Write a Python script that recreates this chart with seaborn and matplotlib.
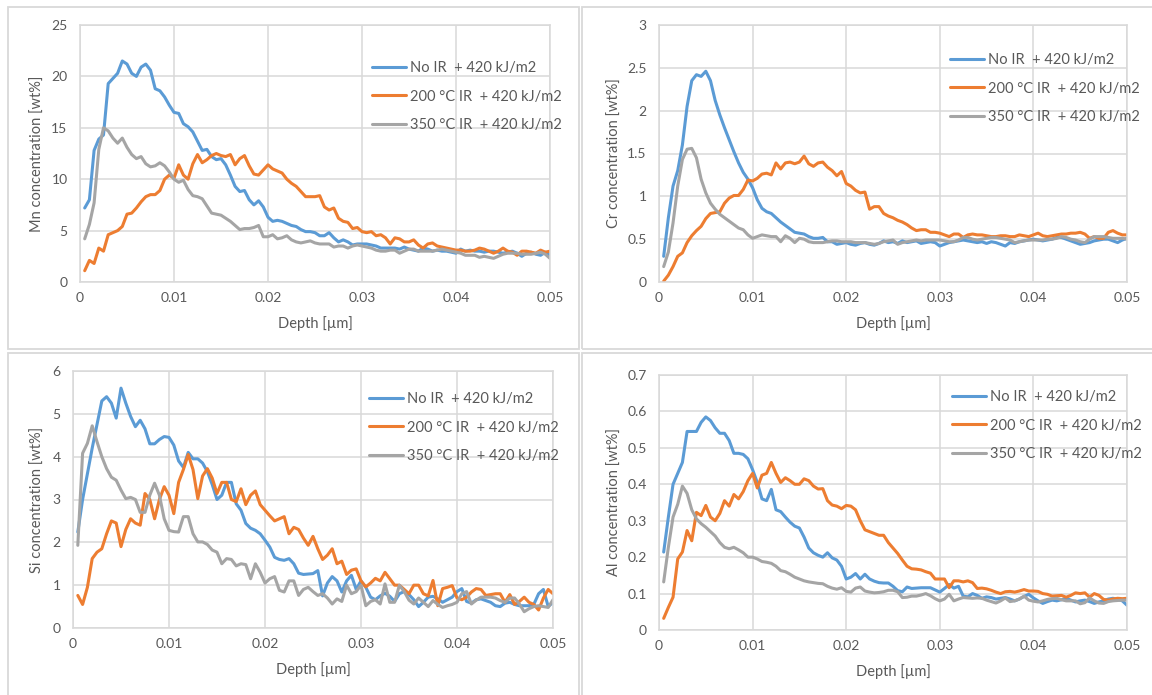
import numpy as np
import pandas as pd
import matplotlib
matplotlib.use("Agg")
import matplotlib.pyplot as plt
import seaborn as sns
from matplotlib.patches import Rectangle

# depth samples [um], every 0.0005 from 0.0005 to 0.05
depth = np.round(np.arange(1, 101) * 0.0005, 4)

series_names = ["No IR  + 420 kJ/m2", "200 °C IR  + 420 kJ/m2", "350 °C IR  + 420 kJ/m2"]
colors = ["#5B9BD5", "#ED7D31", "#A5A5A5"]

# Mn [wt%]
mn_no_ir = [7.2, 8.0, 12.8, 13.9, 14.3, 19.3, 19.8, 20.3, 21.5, 21.2,
            20.3, 20.0, 20.9, 21.2, 20.6, 18.8, 18.6, 18.0, 17.2, 16.5,
            16.4, 15.4, 15.1, 14.6, 13.7, 12.8, 12.9, 12.2, 11.9, 12.0,
            11.4, 10.4, 9.3, 8.8, 8.9, 8.0, 7.5, 7.9, 7.3, 6.3,
            5.9, 6.0, 5.9, 5.7, 5.5, 5.4, 5.1, 4.9, 4.9, 4.8,
            4.5, 4.5, 4.8, 4.3, 3.9, 4.1, 3.9, 3.6, 3.7, 3.7,
            3.7, 3.6, 3.5, 3.3, 3.3, 3.3, 3.3, 3.2, 3.4, 3.2,
            3.1, 3.0, 3.3, 3.2, 3.0, 3.1, 3.0, 3.0, 2.9, 2.8,
            3.2, 3.0, 3.1, 3.0, 3.0, 2.9, 3.0, 3.0, 2.9, 2.8,
            2.9, 3.0, 2.8, 2.5, 2.8, 2.9, 2.7, 2.6, 2.9, 2.6]
mn_200 = [1.1, 2.1, 1.8, 3.3, 3.0, 4.6, 4.8, 5.0, 5.4, 6.6,
          6.7, 7.2, 7.8, 8.3, 8.5, 8.5, 8.9, 10.0, 10.4, 10.1,
          11.4, 10.4, 10.0, 11.5, 12.4, 11.6, 11.9, 12.3, 12.5, 12.3,
          12.2, 12.4, 11.4, 12.0, 12.3, 11.3, 10.5, 10.4, 10.9, 11.4,
          11.0, 10.8, 10.6, 10.0, 9.6, 9.3, 8.8, 8.3, 8.3, 8.3,
          8.4, 7.3, 7.0, 7.2, 6.2, 5.9, 5.8, 5.2, 5.3, 4.9,
          4.8, 4.9, 4.5, 4.6, 4.3, 3.7, 4.3, 4.2, 3.9, 3.9,
          4.1, 3.6, 3.3, 3.7, 3.8, 3.5, 3.4, 3.3, 3.2, 3.1,
          3.1, 3.0, 3.0, 3.1, 3.3, 3.2, 3.0, 2.8, 3.0, 3.3,
          3.0, 2.9, 2.6, 3.0, 3.0, 2.9, 2.8, 3.1, 2.9, 3.0]
mn_350 = [4.2, 5.6, 7.7, 12.9, 15.0, 14.7, 14.0, 13.5, 14.0, 13.1,
          12.4, 12.0, 12.2, 11.5, 11.2, 11.3, 11.6, 11.3, 10.7, 10.0,
          9.7, 9.9, 9.0, 8.4, 8.3, 8.1, 7.4, 6.7, 6.6, 6.5,
          6.2, 5.9, 5.5, 5.1, 5.2, 5.2, 5.3, 5.5, 4.4, 4.4,
          4.6, 4.2, 4.3, 4.5, 4.1, 3.9, 3.8, 3.9, 4.0, 3.8,
          3.7, 3.7, 3.7, 3.4, 3.5, 3.5, 3.3, 3.5, 3.6, 3.5,
          3.4, 3.3, 3.1, 3.0, 3.0, 3.1, 3.1, 2.8, 3.0, 3.2,
          3.2, 3.0, 3.0, 3.0, 3.0, 3.1, 3.2, 3.1, 3.0, 2.9,
          2.8, 2.6, 2.6, 2.6, 2.4, 2.5, 2.4, 2.3, 2.5, 2.7,
          2.8, 2.8, 2.8, 2.7, 2.7, 2.7, 2.8, 2.9, 2.7, 2.3]

# Cr [wt%]
cr_no_ir = [0.30, 0.75, 1.12, 1.30, 1.60, 2.05, 2.35, 2.42, 2.40, 2.46,
            2.35, 2.12, 1.95, 1.80, 1.66, 1.52, 1.39, 1.28, 1.20, 1.10,
            0.96, 0.86, 0.82, 0.80, 0.75, 0.70, 0.66, 0.62, 0.58, 0.57,
            0.56, 0.53, 0.51, 0.51, 0.52, 0.47, 0.47, 0.44, 0.45, 0.46,
            0.44, 0.43, 0.45, 0.46, 0.44, 0.43, 0.45, 0.48, 0.46, 0.47,
            0.45, 0.48, 0.46, 0.47, 0.48, 0.45, 0.46, 0.47, 0.46, 0.42,
            0.44, 0.46, 0.47, 0.48, 0.49, 0.48, 0.47, 0.46, 0.47, 0.45,
            0.47, 0.46, 0.44, 0.42, 0.46, 0.45, 0.47, 0.48, 0.49, 0.50,
            0.49, 0.48, 0.49, 0.50, 0.52, 0.52, 0.50, 0.48, 0.46, 0.44,
            0.45, 0.46, 0.48, 0.49, 0.50, 0.50, 0.48, 0.46, 0.49, 0.51]
cr_200 = [0.01, 0.08, 0.18, 0.30, 0.34, 0.46, 0.54, 0.60, 0.65, 0.74,
          0.80, 0.81, 0.82, 0.92, 0.98, 1.01, 1.01, 1.08, 1.19, 1.18,
          1.21, 1.26, 1.27, 1.25, 1.39, 1.32, 1.39, 1.40, 1.38, 1.40,
          1.47, 1.38, 1.35, 1.39, 1.40, 1.34, 1.30, 1.24, 1.29, 1.15,
          1.12, 1.07, 1.04, 1.05, 0.85, 0.88, 0.88, 0.80, 0.77, 0.75,
          0.72, 0.70, 0.67, 0.63, 0.60, 0.61, 0.61, 0.58, 0.58, 0.57,
          0.55, 0.53, 0.56, 0.56, 0.52, 0.55, 0.56, 0.55, 0.55, 0.54,
          0.53, 0.53, 0.54, 0.54, 0.53, 0.53, 0.55, 0.54, 0.53, 0.55,
          0.57, 0.54, 0.53, 0.54, 0.55, 0.56, 0.56, 0.57, 0.57, 0.58,
          0.56, 0.51, 0.53, 0.51, 0.51, 0.58, 0.60, 0.57, 0.55, 0.55]
cr_350 = [0.18, 0.35, 0.69, 1.12, 1.43, 1.55, 1.56, 1.45, 1.20, 1.04,
          0.92, 0.85, 0.79, 0.75, 0.71, 0.67, 0.63, 0.61, 0.55, 0.51,
          0.53, 0.55, 0.54, 0.53, 0.53, 0.47, 0.54, 0.51, 0.46, 0.51,
          0.50, 0.47, 0.46, 0.46, 0.46, 0.47, 0.48, 0.48, 0.47, 0.47,
          0.47, 0.46, 0.46, 0.46, 0.45, 0.44, 0.45, 0.47, 0.48, 0.49,
          0.44, 0.46, 0.47, 0.48, 0.49, 0.48, 0.49, 0.49, 0.49, 0.49,
          0.48, 0.47, 0.47, 0.49, 0.52, 0.52, 0.50, 0.49, 0.50, 0.51,
          0.52, 0.52, 0.51, 0.50, 0.49, 0.46, 0.47, 0.48, 0.49, 0.49,
          0.49, 0.49, 0.50, 0.50, 0.51, 0.53, 0.52, 0.50, 0.49, 0.47,
          0.46, 0.50, 0.53, 0.53, 0.53, 0.52, 0.51, 0.51, 0.51, 0.50]

# Si [wt%]
si_no_ir = [2.24, 3.00, 3.60, 4.20, 4.75, 5.30, 5.40, 5.25, 4.90, 5.60,
            5.25, 4.94, 4.70, 4.85, 4.65, 4.30, 4.30, 4.40, 4.47, 4.45,
            4.27, 3.90, 3.75, 4.10, 3.95, 3.95, 3.85, 3.65, 3.35, 3.00,
            3.10, 3.40, 3.40, 2.90, 2.75, 2.44, 2.33, 2.28, 2.20, 2.05,
            1.89, 1.65, 1.60, 1.58, 1.62, 1.50, 1.28, 1.25, 1.26, 1.27,
            1.34, 0.75, 1.05, 1.20, 1.10, 0.84, 1.10, 1.23, 0.90, 1.10,
            0.95, 0.72, 0.66, 0.75, 0.81, 0.74, 0.62, 0.80, 0.85, 0.78,
            0.66, 0.50, 0.60, 0.72, 0.74, 0.68, 0.60, 0.66, 0.72, 0.85,
            0.92, 0.62, 0.58, 0.66, 0.68, 0.64, 0.60, 0.52, 0.50, 0.58,
            0.60, 0.55, 0.52, 0.52, 0.52, 0.55, 0.80, 0.90, 0.50, 0.60]
si_200 = [0.76, 0.55, 0.95, 1.62, 1.77, 1.85, 2.20, 2.50, 2.45, 1.90,
          2.30, 2.55, 2.45, 2.40, 3.14, 3.00, 2.55, 3.00, 3.30, 3.10,
          2.67, 3.40, 3.70, 4.05, 3.70, 3.02, 3.55, 3.72, 3.50, 3.14,
          3.40, 3.40, 3.00, 2.95, 3.25, 2.88, 3.10, 3.20, 2.88, 2.75,
          2.62, 2.50, 2.55, 2.60, 2.20, 2.35, 2.30, 2.10, 1.93, 2.14,
          1.85, 1.60, 1.70, 1.85, 1.50, 1.56, 1.25, 1.35, 1.38, 1.10,
          0.96, 1.05, 1.16, 1.10, 1.30, 1.15, 1.00, 1.00, 0.90, 0.80,
          1.00, 1.00, 0.80, 0.75, 1.11, 0.52, 0.92, 0.95, 0.99, 0.70,
          0.66, 0.72, 0.84, 0.92, 0.90, 0.76, 0.78, 0.80, 0.80, 0.60,
          0.78, 0.55, 0.62, 0.72, 0.60, 0.55, 0.42, 0.70, 0.90, 0.80]
si_350 = [1.93, 4.08, 4.31, 4.72, 4.35, 4.00, 3.72, 3.52, 3.45, 3.22,
          3.02, 3.05, 3.00, 2.70, 2.70, 3.10, 3.38, 3.10, 2.55, 2.28,
          2.25, 2.24, 2.60, 2.60, 2.20, 2.01, 2.01, 1.95, 1.82, 1.77,
          1.50, 1.62, 1.60, 1.45, 1.50, 1.48, 1.15, 1.50, 1.30, 1.05,
          1.15, 1.20, 0.88, 0.84, 1.10, 1.10, 0.76, 0.90, 0.95, 0.85,
          0.76, 0.80, 0.70, 0.56, 0.68, 0.62, 1.00, 0.80, 0.85, 1.00,
          0.52, 0.62, 0.66, 0.56, 1.03, 0.60, 0.60, 1.00, 0.85, 0.65,
          0.56, 0.70, 0.60, 0.50, 0.64, 0.55, 0.48, 0.52, 0.55, 0.60,
          0.80, 0.85, 0.56, 0.65, 0.72, 0.72, 0.72, 0.70, 0.64, 0.60,
          0.70, 0.70, 0.56, 0.38, 0.45, 0.50, 0.52, 0.50, 0.48, 0.66]

# Al [wt%]
al_no_ir = [0.214, 0.31, 0.40, 0.43, 0.46, 0.545, 0.545, 0.545, 0.57, 0.585,
            0.575, 0.555, 0.54, 0.54, 0.52, 0.485, 0.485, 0.482, 0.47, 0.44,
            0.405, 0.36, 0.355, 0.386, 0.33, 0.325, 0.31, 0.296, 0.285, 0.28,
            0.255, 0.225, 0.212, 0.205, 0.20, 0.212, 0.198, 0.192, 0.175, 0.14,
            0.145, 0.155, 0.14, 0.153, 0.14, 0.134, 0.13, 0.129, 0.129, 0.12,
            0.108, 0.105, 0.118, 0.114, 0.115, 0.116, 0.116, 0.116, 0.11, 0.104,
            0.114, 0.125, 0.115, 0.12, 0.093, 0.091, 0.10, 0.095, 0.087, 0.091,
            0.089, 0.085, 0.087, 0.089, 0.085, 0.080, 0.085, 0.092, 0.098, 0.088,
            0.080, 0.073, 0.078, 0.082, 0.080, 0.083, 0.087, 0.082, 0.077, 0.080,
            0.082, 0.078, 0.073, 0.077, 0.080, 0.085, 0.087, 0.084, 0.080, 0.068]
al_200 = [0.032, 0.062, 0.09, 0.195, 0.214, 0.273, 0.245, 0.323, 0.314, 0.342,
          0.31, 0.30, 0.32, 0.355, 0.34, 0.372, 0.36, 0.38, 0.41, 0.43,
          0.39, 0.425, 0.43, 0.46, 0.43, 0.405, 0.418, 0.41, 0.40, 0.40,
          0.415, 0.41, 0.395, 0.387, 0.388, 0.355, 0.343, 0.34, 0.333, 0.342,
          0.34, 0.33, 0.30, 0.275, 0.27, 0.265, 0.26, 0.26, 0.24, 0.225,
          0.21, 0.192, 0.175, 0.168, 0.167, 0.165, 0.16, 0.156, 0.14, 0.14,
          0.14, 0.116, 0.135, 0.135, 0.132, 0.135, 0.13, 0.114, 0.115, 0.113,
          0.109, 0.104, 0.10, 0.105, 0.106, 0.104, 0.107, 0.111, 0.107, 0.107,
          0.106, 0.10, 0.098, 0.093, 0.094, 0.095, 0.09, 0.095, 0.102, 0.10,
          0.102, 0.09, 0.10, 0.095, 0.084, 0.082, 0.085, 0.087, 0.086, 0.087]
al_350 = [0.132, 0.227, 0.31, 0.345, 0.395, 0.375, 0.33, 0.305, 0.292, 0.282,
          0.27, 0.258, 0.24, 0.227, 0.223, 0.227, 0.22, 0.212, 0.20, 0.20,
          0.195, 0.188, 0.186, 0.183, 0.175, 0.163, 0.16, 0.153, 0.145, 0.14,
          0.135, 0.132, 0.13, 0.128, 0.127, 0.12, 0.115, 0.112, 0.116, 0.106,
          0.104, 0.115, 0.118, 0.107, 0.104, 0.102, 0.103, 0.105, 0.109, 0.109,
          0.105, 0.089, 0.09, 0.093, 0.093, 0.096, 0.10, 0.094, 0.086, 0.08,
          0.085, 0.098, 0.08, 0.085, 0.089, 0.088, 0.087, 0.088, 0.087, 0.082,
          0.078, 0.074, 0.08, 0.088, 0.078, 0.08, 0.085, 0.093, 0.082, 0.079,
          0.077, 0.08, 0.084, 0.086, 0.087, 0.083, 0.08, 0.08, 0.08, 0.072,
          0.075, 0.088, 0.08, 0.074, 0.073, 0.078, 0.08, 0.081, 0.082, 0.082]

# ylabel, data, y max, y step, axes box in px (l, t, r, b), legend anchor px, ylabel offset px
panels = [
    ("Mn concentration [wt%]", [mn_no_ir, mn_200, mn_350], 25, 5, (80, 25, 550, 282), (372, 61), 42),
    ("Cr concentration [wt%]", [cr_no_ir, cr_200, cr_350], 3, 0.5, (659, 25, 1127, 282), (950, 53), 44),
    ("Si concentration [wt%]", [si_no_ir, si_200, si_350], 6, 1, (73, 371, 553, 628), (369, 392), 35),
    ("Al concentration [wt%]", [al_no_ir, al_200, al_350], 0.7, 0.1, (659, 375, 1127, 630), (952, 390), 44),
]

sns.set_style("white")
plt.rcParams["font.family"] = ["Lato", "DejaVu Sans"]
txt = "#595959"
grid_c = "#d9d9d9"

W, H = 1152, 695
fig = plt.figure(figsize=(W / 100, H / 100), dpi=100)

# chart frames
for (x0, y0, x1, y1) in [(8, 7, 579, 349), (582, 7, 1160, 349), (8, 353, 579, 700), (582, 353, 1160, 700)]:
    fig.patches.append(Rectangle((x0 / W, 1 - y1 / H), (x1 - x0) / W, (y1 - y0) / H,
                                 transform=fig.transFigure, fill=False,
                                 edgecolor=grid_c, linewidth=1.3))

for ylabel, ys, ymax, ystep, (l, t, r, b), (lx, ly), yoff in panels:
    ax = fig.add_axes([l / W, 1 - b / H, (r - l) / W, (b - t) / H])
    df = pd.DataFrame({
        "depth": np.tile(depth, 3),
        "conc": np.concatenate([np.asarray(v, dtype=float) for v in ys]),
        "series": np.repeat(series_names, len(depth)),
    })
    sns.lineplot(data=df, x="depth", y="conc", hue="series", hue_order=series_names,
                 palette=colors, linewidth=2.2, ax=ax, legend=True, sort=False)
    for ln in ax.lines:
        ln.set_solid_joinstyle("round")
        ln.set_solid_capstyle("round")
    ax.set_xlim(0, 0.05)
    ax.set_ylim(0, ymax)
    ax.set_xticks(np.linspace(0, 0.05, 6))
    ax.set_xticklabels(["0", "0.01", "0.02", "0.03", "0.04", "0.05"])
    yt = np.round(np.arange(0, ymax + ystep / 2, ystep), 2)
    ax.set_yticks(yt)
    ax.set_yticklabels([f"{v:g}" for v in yt])
    ax.grid(True, color=grid_c, linewidth=1.1)
    ax.set_axisbelow(True)
    for s in ax.spines.values():
        s.set_color(grid_c)
        s.set_linewidth(1.1)
    ax.tick_params(length=0, labelsize=10, colors=txt, pad=7)
    ax.tick_params(axis="y", pad=9)
    ax.set_xlabel("Depth [µm]", fontsize=10.5, color=txt)
    ax.set_ylabel(ylabel, fontsize=10.5, color=txt)
    ax.xaxis.set_label_coords(0.5, -42 / (b - t))
    ax.yaxis.set_label_coords(-yoff / (r - l), 0.5)
    ax.yaxis.label.set_verticalalignment("center")
    ax.xaxis.label.set_verticalalignment("center")
    ax.legend(loc="upper left", bbox_to_anchor=(lx / W, 1 - ly / H),
              bbox_transform=fig.transFigure, frameon=False, fontsize=10.5,
              handlelength=2.35, handletextpad=0.25, labelspacing=1.0,
              borderpad=0, borderaxespad=0, labelcolor=txt)

fig.savefig("out.png", dpi=100)
